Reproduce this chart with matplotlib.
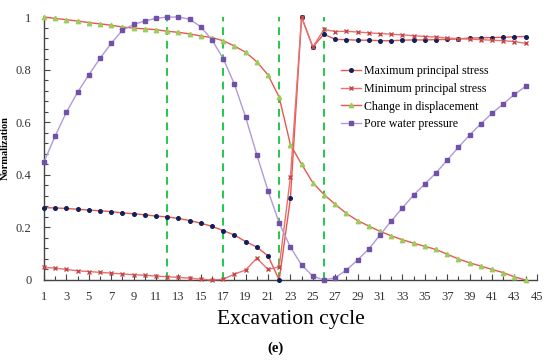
import numpy as np
import matplotlib
matplotlib.use('Agg')
from matplotlib import pyplot as plt
from matplotlib.ticker import MultipleLocator

# excavation cycles
cycle = np.arange(1, 45)

max_stress = [0.275, 0.274, 0.272, 0.269, 0.266, 0.263, 0.260, 0.255, 0.252, 0.248,
              0.243, 0.240, 0.234, 0.226, 0.216, 0.204, 0.188, 0.171, 0.146, 0.125,
              0.092, 0.0, 0.31, 1.0, 0.886, 0.935, 0.915, 0.914, 0.912, 0.912,
              0.910, 0.910, 0.912, 0.913, 0.913, 0.914, 0.915, 0.917, 0.920, 0.921,
              0.922, 0.923, 0.925, 0.926]
min_stress = [0.048, 0.045, 0.040, 0.035, 0.032, 0.029, 0.026, 0.023, 0.020, 0.018,
              0.015, 0.012, 0.010, 0.007, 0.003, 0.0, 0.003, 0.022, 0.038, 0.083,
              0.040, 0.050, 0.39, 1.0, 0.886, 0.953, 0.945, 0.946, 0.943, 0.940,
              0.937, 0.935, 0.932, 0.929, 0.926, 0.924, 0.920, 0.918, 0.916, 0.914,
              0.912, 0.910, 0.907, 0.900]
displacement = [1.0, 0.995, 0.990, 0.985, 0.979, 0.974, 0.969, 0.962, 0.958, 0.955,
                0.952, 0.946, 0.942, 0.936, 0.928, 0.922, 0.910, 0.890, 0.866, 0.830,
                0.780, 0.695, 0.515, 0.440, 0.370, 0.325, 0.288, 0.253, 0.226, 0.205,
                0.185, 0.168, 0.153, 0.140, 0.128, 0.116, 0.098, 0.080, 0.065, 0.053,
                0.040, 0.028, 0.012, 0.0]
pore_pressure = [0.449, 0.548, 0.638, 0.714, 0.780, 0.843, 0.900, 0.950, 0.972, 0.985,
                 0.995, 1.0, 1.0, 0.992, 0.963, 0.913, 0.842, 0.745, 0.620, 0.476,
                 0.340, 0.217, 0.125, 0.057, 0.015, 0.0, 0.008, 0.038, 0.076, 0.118,
                 0.171, 0.224, 0.274, 0.323, 0.365, 0.407, 0.456, 0.505, 0.551, 0.594,
                 0.634, 0.669, 0.706, 0.736]
stage_lines = [12, 17, 22, 26]

plt.rcParams['font.family'] = ['Liberation Serif', 'DejaVu Serif']

fig = plt.figure(figsize=(5.5, 3.63), dpi=100)
ax = fig.add_axes([0.08, 0.2287, 0.896, 0.7243])

red = '#e8584e'
ax.plot(cycle, max_stress, '-', color=red, lw=1.0, marker='o', ms=2.6,
        mfc='#10205a', mec='#10205a', label='Maximum principal stress', clip_on=False, zorder=3)
ax.plot(cycle, min_stress, '-', color='#e87070', lw=1.0, marker='x', ms=3.2,
        mec='#c84848', mew=1.0, label='Minimum principal stress', clip_on=False, zorder=3)
ax.plot(cycle, displacement, '-', color=red, lw=1.0, marker='^', ms=3.2,
        mfc='#9ccc5a', mec='#9ccc5a', label='Change in displacement', clip_on=False, zorder=3)
ax.plot(cycle, pore_pressure, '-', color='#b09ad8', lw=1.0, marker='s', ms=3.0,
        mfc='#7050a8', mec='#7050a8', label='Pore water pressure', clip_on=False, zorder=3)

for s in stage_lines:
    ax.axvline(s, color='#22c84a', lw=1.4, ls=(0, (4, 3)), zorder=2)

ax.set_xlim(1, 45)
ax.set_ylim(0, 1)
ax.set_xticks(np.arange(1, 46, 2))
ax.xaxis.set_minor_locator(MultipleLocator(1))
ax.set_yticks([0, 0.2, 0.4, 0.6, 0.8, 1.0])
ax.set_yticklabels(['0', '0.2', '0.4', '0.6', '0.8', '1'])
ax.yaxis.set_minor_locator(MultipleLocator(0.04))
ax.tick_params(which='both', direction='in', colors='#444444', labelcolor='#333333',
               labelsize=9, width=0.8)
ax.tick_params(which='major', length=4)
ax.tick_params(which='minor', length=3)
ax.tick_params(axis='x', pad=8)
ax.tick_params(axis='y', pad=9)
for side in ['top', 'right']:
    ax.spines[side].set_visible(False)
for side in ['left', 'bottom']:
    ax.spines[side].set_color('#444444')
    ax.spines[side].set_linewidth(1.0)

ax.set_ylabel('Normalization', fontsize=7.5, fontweight='bold', labelpad=4)
ax.set_xlabel('Excavation cycle', fontsize=15.5, labelpad=5)

ax.legend(loc='upper left', bbox_to_anchor=(0.59, 0.84), frameon=False, fontsize=8.6,
          handlelength=1.7, handletextpad=0.25, labelspacing=0.48, borderpad=0)

fig.text(0.5, 0.04, '(e)', ha='center', va='center', fontsize=10.5, fontweight='bold')

fig.savefig('out.png', dpi=100)
